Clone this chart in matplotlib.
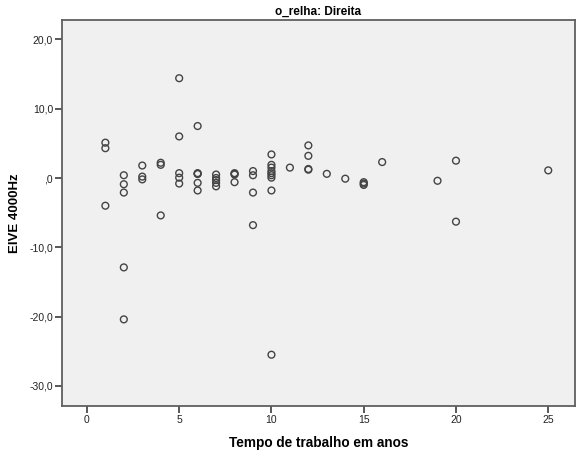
import matplotlib
matplotlib.use("Agg")
import matplotlib.pyplot as plt
from matplotlib.ticker import FuncFormatter

plt.rcParams['font.family'] = ['Liberation Sans', 'DejaVu Sans']

title = "o_relha: Direita"
x_label = "Tempo de trabalho em anos"
y_label = "EIVE 4000Hz"

years = [1, 1, 1,
         2, 2, 2, 2, 2,
         3, 3, 3,
         4, 4, 4,
         5, 5, 5, 5, 5,
         6, 6, 6, 6, 6, 6,
         7, 7, 7, 7, 7,
         8, 8, 8, 8,
         9, 9, 9, 9,
         10, 10, 10, 10, 10, 10, 10, 10, 10,
         11,
         12, 12, 12, 12,
         13, 14,
         15, 15, 15,
         16, 19, 20, 20, 25]
eive = [5.1, 4.3, -4.0,
        0.4, -0.9, -2.1, -12.9, -20.4,
        1.8, 0.2, -0.2,
        2.2, 1.9, -5.4,
        14.4, 6.0, 0.7, 0.05, -0.8,
        7.5, 0.7, 0.6, -0.7, -1.8, 0.6,
        0.5, 0.0, -0.3, -0.7, -1.2,
        0.7, 0.5, 0.6, -0.6,
        1.0, 0.4, -2.1, -6.8,
        3.4, 1.9, 1.5, 1.0, 0.7, 0.4, 0.05, -1.8, -25.5,
        1.5,
        4.7, 3.2, 1.3, 1.2,
        0.6, -0.1,
        -0.6, -0.8, -1.0,
        2.3, -0.4, 2.5, -6.3, 1.1]

x_ticks = [0, 5, 10, 15, 20, 25]
y_ticks = [-30, -20, -10, 0, 10, 20]

fig = plt.figure(figsize=(5.78, 4.53), dpi=100)
ax = fig.add_axes([62/578, 47/453, 513/578, 386/453])
ax.set_facecolor('#F0F0F0')

ax.scatter(years, eive, s=24, facecolors='none', edgecolors='#444444', linewidths=1.0, zorder=3)

ax.set_xlim(-1.35, 26.45)
ax.set_ylim(-32.9, 22.8)
ax.set_xticks(x_ticks)
ax.set_yticks(y_ticks)

def yfmt(v, pos):
    if abs(v) < 1e-9:
        return ",0"
    return f"{v:.1f}".replace(".", ",")
ax.yaxis.set_major_formatter(FuncFormatter(yfmt))

for s in ax.spines.values():
    s.set_color('#5f5f5f')
    s.set_linewidth(1.3)
ax.tick_params(axis='both', direction='out', length=5, width=1.2, color='#3c3c3c',
               labelsize=7.5, labelcolor='#222222', pad=1.5)

ax.set_title(title, fontsize=8.5, fontweight='bold', pad=4)
ax.set_xlabel(x_label, fontsize=9.8, fontweight='bold', labelpad=8)
ax.set_ylabel(y_label, fontsize=9.5, fontweight='bold', labelpad=6)

fig.savefig("out.png", dpi=100)
